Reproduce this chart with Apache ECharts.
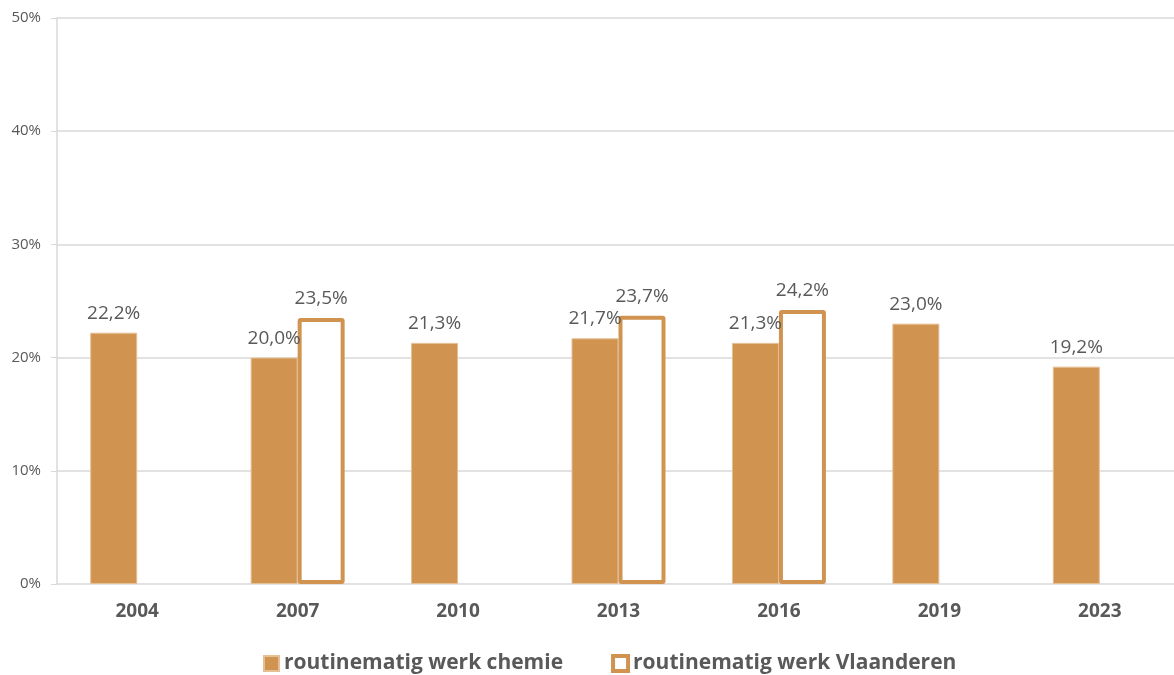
<!DOCTYPE html>
<html>
<head>
<meta charset="utf-8">
<script src="https://cdn.jsdelivr.net/npm/echarts@6/dist/echarts.min.js"></script>
<style>
  html, body { margin: 0; padding: 0; background: #fff; }
  #chart { width: 1174px; height: 675px; }
</style>
</head>
<body>
<div id="chart"></div>
<script>
const years = ["2004", "2007", "2010", "2013", "2016", "2019", "2023"];
const chemie = [22.2, 20.0, 21.3, 21.7, 21.3, 23.0, 19.2];
const vlaanderen = ["-", 23.5, "-", 23.7, 24.2, "-", "-"];
const yTicks = { min: 0, max: 50, interval: 10 };

const orange = "#D09350";
const textColor = "#595959";
const font = "Open Sans";

const pct = (v) => v.toFixed(1).replace(".", ",") + "%";

const chart = echarts.init(document.getElementById("chart"));

chart.setOption({
  textStyle: { fontFamily: font },
  animation: false,
  grid: {
    left: 57,
    top: 18,
    width: 1123,
    bottom: 91,
    outerBoundsMode: "none",
    containLabel: false,
  },
  legend: {
    top: 648,
    left: 258,
    itemWidth: 15,
    itemHeight: 15,
    itemGap: 48,
    textStyle: {
      fontFamily: font,
      fontSize: 21,
      fontWeight: "bold",
      color: textColor,
    },
    data: [
      { name: "routinematig werk chemie", icon: "rect" },
      {
        name: "routinematig werk Vlaanderen",
        icon: "rect",
        itemStyle: { color: "#ffffff", borderColor: orange, borderWidth: 4 },
      },
    ],
  },
  xAxis: {
    type: "category",
    data: years,
    axisLine: { show: false },
    axisTick: { show: false },
    axisLabel: {
      margin: 18,
      fontFamily: font,
      fontSize: 19,
      fontWeight: "bold",
      color: textColor,
    },
  },
  yAxis: {
    type: "value",
    min: yTicks.min,
    max: yTicks.max,
    interval: yTicks.interval,
    axisLine: { show: true, lineStyle: { color: "#d9d9d9", width: 1.5 } },
    axisTick: { show: true, length: 6, lineStyle: { color: "#d9d9d9" } },
    splitLine: { lineStyle: { color: "#d9d9d9", width: 1.5 } },
    axisLabel: {
      formatter: "{value}%",
      margin: 16,
      fontFamily: font,
      fontSize: 15,
      color: textColor,
    },
  },
  series: [
    {
      name: "routinematig werk chemie",
      type: "bar",
      data: chemie,
      barWidth: 47,
      barGap: "0%",
      itemStyle: { color: orange, borderColor: "#e6bf94", borderWidth: 1 },
      label: {
        show: true,
        position: "top",
        distance: 10,
        fontFamily: font,
        fontSize: 19,
        color: textColor,
        formatter: (p) => pct(p.value),
      },
    },
    {
      name: "routinematig werk Vlaanderen",
      type: "bar",
      data: vlaanderen,
      barWidth: 47,
      barGap: "0%",
      itemStyle: { color: "#ffffff", borderColor: orange, borderWidth: 4, borderRadius: 1 },
      label: {
        show: true,
        position: "top",
        distance: 10,
        fontFamily: font,
        fontSize: 19,
        color: textColor,
        formatter: (p) => pct(p.value),
      },
    },
  ],
});
</script>
</body>
</html>
